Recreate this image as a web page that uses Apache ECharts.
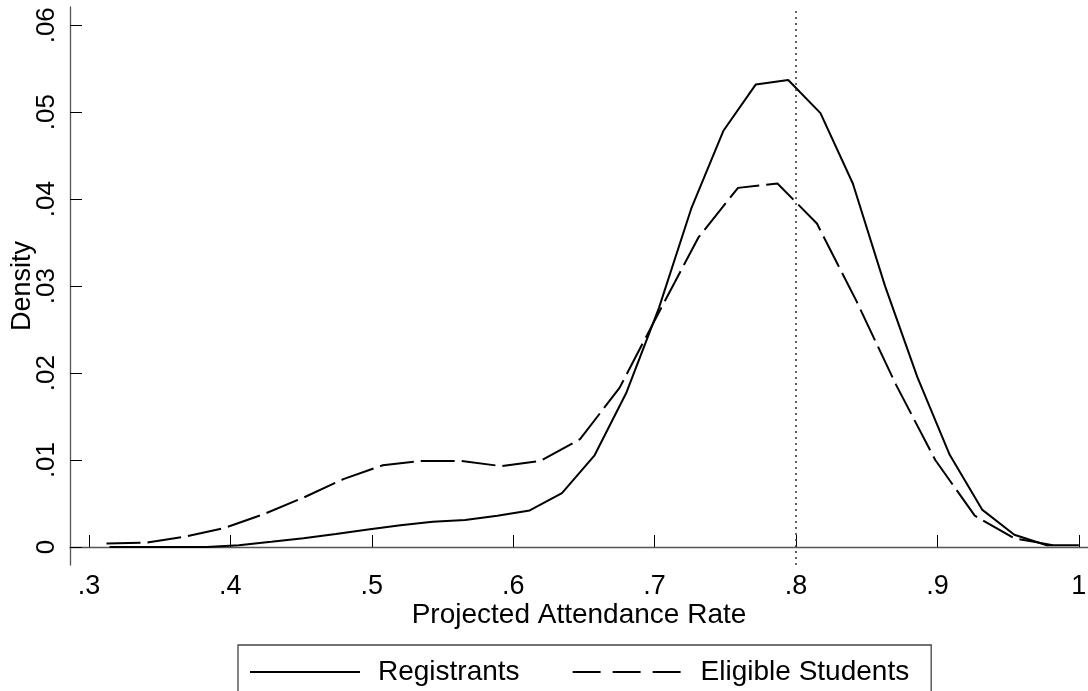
<!DOCTYPE html>
<html>
<head>
<meta charset="UTF-8">
<title>Projected Attendance Rate</title>
<script src="https://cdn.jsdelivr.net/npm/echarts@6/dist/echarts.min.js"></script>
<style>
  html, body { margin: 0; background: #fff; }
  #main { width: 1088px; height: 691px; }
</style>
</head>
<body>
<div id="main"></div>
<script>
// kernel density, registrants
var regX = [0.3146, 0.3375, 0.3603, 0.3832, 0.4060, 0.4289, 0.4517, 0.4746, 0.4974, 0.5203,
            0.5431, 0.5660, 0.5888, 0.6117, 0.6345, 0.6574, 0.6802, 0.7031, 0.7259, 0.7488,
            0.7716, 0.7945, 0.8173, 0.8402, 0.8630, 0.8859, 0.9087, 0.9316, 0.9544, 0.9773, 1.0000];
var regY = [0.0000, 0.0000, 0.0000, 0.0000, 0.0002, 0.0006, 0.0010, 0.0015, 0.0020, 0.0025,
            0.0029, 0.0031, 0.0036, 0.0042, 0.0062, 0.0105, 0.0178, 0.0275, 0.0389, 0.0479,
            0.0532, 0.0537, 0.0499, 0.0418, 0.0300, 0.0195, 0.0106, 0.0043, 0.0014, 0.0002, 0.0002];

// kernel density, eligible students
var eligX = [0.3124, 0.3403, 0.3682, 0.3961, 0.4240, 0.4520, 0.4799, 0.5078, 0.5357, 0.5636,
             0.5915, 0.6194, 0.6473, 0.6752, 0.7031, 0.7310, 0.7590, 0.7869, 0.8148, 0.8427,
             0.8706, 0.8985, 0.9264, 0.9543, 0.9822];
var eligY = [0.0004, 0.0005, 0.0012, 0.0022, 0.0038, 0.0057, 0.0078, 0.0094, 0.0099, 0.0099,
             0.0093, 0.0099, 0.0124, 0.0183, 0.0270, 0.0356, 0.0413, 0.0418, 0.0372, 0.0283,
             0.0187, 0.0100, 0.0036, 0.0010, 0.0002];

var xTicks = [0.3, 0.4, 0.5, 0.6, 0.7, 0.8, 0.9, 1.0];
var xTickLabels = ['.3', '.4', '.5', '.6', '.7', '.8', '.9', '1'];
var yTicks = [0, 0.01, 0.02, 0.03, 0.04, 0.05, 0.06];
var yTickLabels = ['0', '.01', '.02', '.03', '.04', '.05', '.06'];
var cutoff = 0.8;

function pairs(xs, ys) {
  return xs.map(function (x, i) { return [x, ys[i]]; });
}
function tickText(vals, labels) {
  return function (v) {
    for (var i = 0; i < vals.length; i++) {
      if (Math.abs(v - vals[i]) < 1e-6) return labels[i];
    }
    return '';
  };
}

var font = 'Liberation Sans';
var axisColor = '#555';
var chart = echarts.init(document.getElementById('main'));

chart.setOption({
  backgroundColor: '#fff',
  animation: false,
  grid: { left: 70, right: 0, top: 7, bottom: 126, outerBoundsMode: 'none' },
  xAxis: {
    type: 'value',
    min: 0.2866,
    max: 1.0065,
    name: 'Projected Attendance Rate',
    nameLocation: 'middle',
    nameGap: 36,
    nameMoveOverlap: false,
    nameTextStyle: { fontFamily: font, fontSize: 28, color: '#000' },
    axisLine: { lineStyle: { color: axisColor, width: 1.3 } },
    axisTick: { inside: true, length: 12, customValues: xTicks, lineStyle: { color: '#000', width: 1 } },
    axisLabel: { customValues: xTicks, formatter: tickText(xTicks, xTickLabels), margin: 8,
                 fontFamily: font, fontSize: 27, color: '#000' },
    splitLine: { show: false }
  },
  yAxis: {
    type: 'value',
    min: -0.00207,
    max: 0.0621,
    name: 'Density',
    nameLocation: 'middle',
    nameGap: 34,
    nameMoveOverlap: false,
    nameTextStyle: { fontFamily: font, fontSize: 27, color: '#000' },
    axisLine: { show: true, lineStyle: { color: axisColor, width: 1.3 } },
    axisTick: { show: true, inside: true, length: 12, customValues: yTicks, lineStyle: { color: '#000', width: 1 } },
    axisLabel: { customValues: yTicks, formatter: tickText(yTicks, yTickLabels), rotate: 90, margin: 10,
                 fontFamily: font, fontSize: 26, color: '#000' },
    splitLine: { show: false }
  },
  legend: {
    left: 238,
    top: 645,
    padding: [13, 22, 20, 11],
    itemWidth: 110,
    itemHeight: 14,
    itemGap: 52,
    borderColor: '#444',
    borderWidth: 1.3,
    itemStyle: { opacity: 0 },
    textStyle: { fontFamily: font, fontSize: 28, color: '#000', padding: [0, 0, 0, 13] },
    data: [
      { name: 'Registrants' },
      { name: 'Eligible Students', lineStyle: { type: [28, 12] } }
    ]
  },
  series: [
    {
      name: 'Registrants',
      type: 'line',
      data: pairs(regX, regY),
      symbol: 'none',
      lineStyle: { color: '#000', width: 2 },
      itemStyle: { color: '#000' },
      markLine: {
        silent: true,
        symbol: 'none',
        label: { show: false },
        lineStyle: { type: [2, 4], color: '#333', width: 1.5 },
        data: [{ xAxis: cutoff }]
      }
    },
    {
      name: 'Eligible Students',
      type: 'line',
      data: pairs(eligX, eligY),
      symbol: 'none',
      lineStyle: { color: '#000', width: 2, type: [34, 7] },
      itemStyle: { color: '#000' }
    }
  ]
});
</script>
</body>
</html>
